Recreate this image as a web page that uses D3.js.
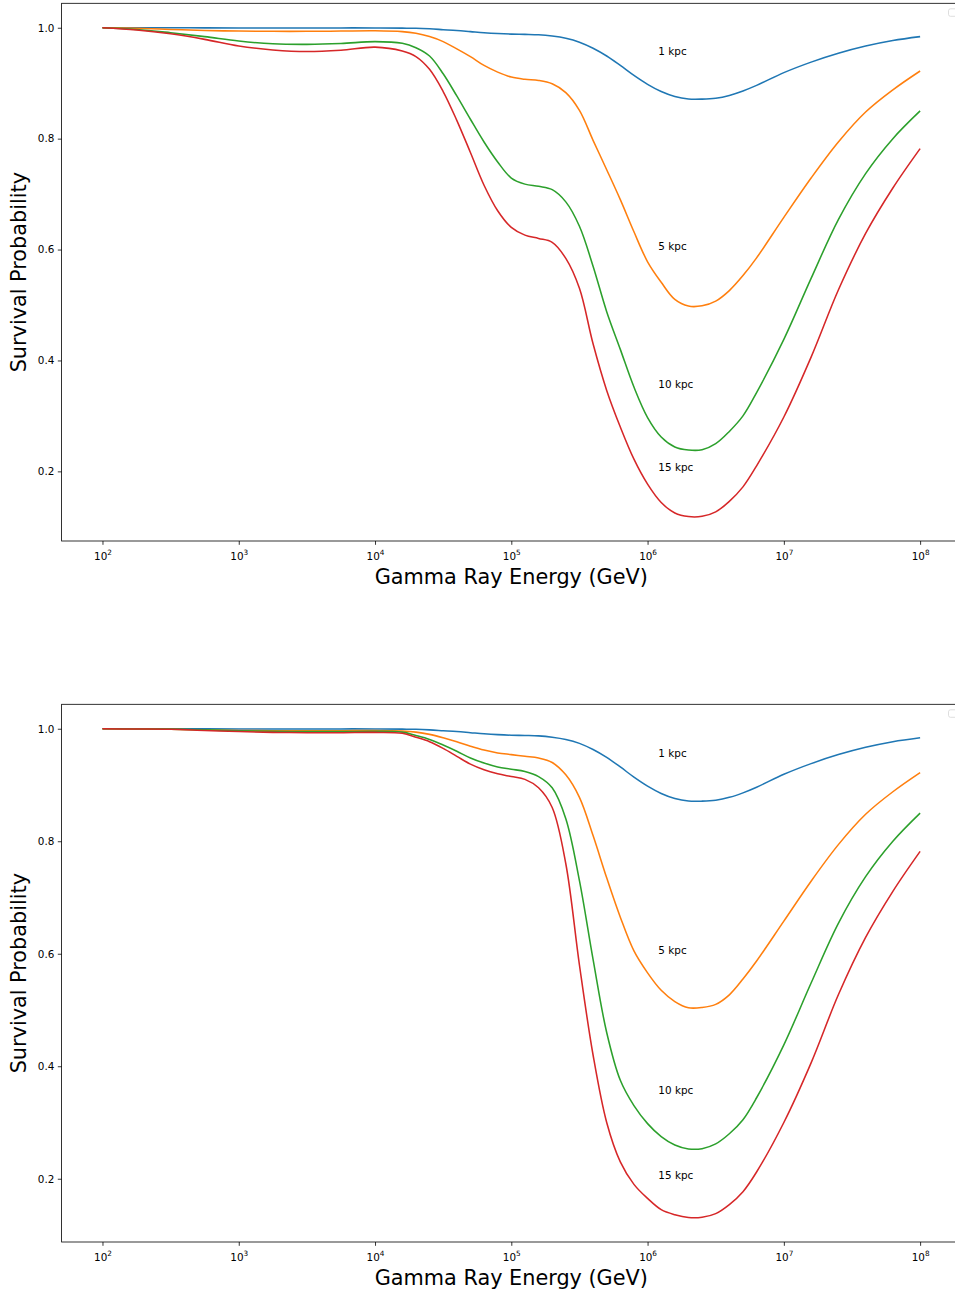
<!DOCTYPE html>
<html lang="en">
<head>
<meta charset="UTF-8">
<title>Survival Probability</title>
<script src="https://d3js.org/d3.v7.min.js"></script>
<style>
  body { margin: 0; background: #fff; }
  svg text { font-family: "DejaVu Sans", sans-serif; }
</style>
</head>
<body>
<svg id="fig" width="955" height="1296"></svg>
<script>
// log10 of the gamma ray energy (GeV) where values were read
var logE = [2.0, 2.25, 2.5, 2.75, 3.0, 3.25, 3.5, 3.75, 4.0, 4.2, 4.3, 4.4, 4.5, 4.6, 4.7, 4.8, 4.9,
            5.0, 5.1, 5.2, 5.3, 5.4, 5.5, 5.6, 5.7, 5.8, 5.9, 6.0, 6.1, 6.2, 6.3, 6.4, 6.5, 6.6, 6.7, 6.8,
            7.0, 7.2, 7.4, 7.6, 7.8, 8.0];

var labels = ["1 kpc", "5 kpc", "10 kpc", "15 kpc"];
var labelY = [0.95, 0.6, 0.35, 0.2];
var colors = ["#1f77b4", "#ff7f0e", "#2ca02c", "#d62728"];

// upper panel
var top1 = [1.0, 1.0, 1.0, 0.9998, 0.9997, 0.9996, 0.9996, 0.9997, 0.9997, 0.9993, 0.999, 0.998, 0.9965, 0.995, 0.993, 0.991, 0.9895,
            0.9885, 0.988, 0.9873, 0.985, 0.981, 0.974, 0.963, 0.949, 0.932, 0.914, 0.898, 0.885, 0.876, 0.8715, 0.8713, 0.873, 0.878, 0.886, 0.896,
            0.919, 0.938, 0.954, 0.967, 0.977, 0.984];
var top5 = [1.0, 0.999, 0.997, 0.995, 0.994, 0.9935, 0.9935, 0.994, 0.9945, 0.993, 0.990, 0.984, 0.975, 0.962, 0.948, 0.932, 0.920,
            0.911, 0.907, 0.905, 0.899, 0.883, 0.851, 0.797, 0.744, 0.690, 0.632, 0.578, 0.541, 0.510, 0.498, 0.4985, 0.507, 0.526, 0.553, 0.585,
            0.658, 0.729, 0.794, 0.848, 0.888, 0.922];
var top10 = [1.0, 0.997, 0.991, 0.984, 0.976, 0.971, 0.970, 0.9715, 0.975, 0.972, 0.964, 0.949, 0.917, 0.877, 0.835, 0.794, 0.758,
             0.729, 0.718, 0.714, 0.708, 0.686, 0.642, 0.570, 0.488, 0.420, 0.352, 0.297, 0.262, 0.244, 0.2385, 0.239, 0.250, 0.272, 0.300, 0.342,
             0.438, 0.548, 0.654, 0.737, 0.800, 0.850];
var top15 = [1.0, 0.996, 0.989, 0.979, 0.967, 0.960, 0.957, 0.9595, 0.965, 0.958, 0.948, 0.925, 0.885, 0.833, 0.775, 0.716, 0.670,
             0.640, 0.626, 0.620, 0.613, 0.584, 0.530, 0.430, 0.346, 0.280, 0.222, 0.177, 0.144, 0.125, 0.1185, 0.119, 0.127, 0.146, 0.172, 0.210,
             0.298, 0.406, 0.527, 0.629, 0.711, 0.782];

// lower panel
var bot1 = [1.0, 1.0, 1.0, 0.9998, 0.9997, 0.9996, 0.9996, 0.9997, 0.9997, 0.9993, 0.999, 0.998, 0.9965, 0.995, 0.993, 0.991, 0.9895,
            0.9885, 0.988, 0.9873, 0.985, 0.981, 0.974, 0.963, 0.949, 0.932, 0.914, 0.898, 0.885, 0.876, 0.8715, 0.8713, 0.873, 0.878, 0.886, 0.896,
            0.919, 0.938, 0.954, 0.967, 0.977, 0.984];
var bot5 = [1.0, 0.9995, 0.999, 0.998, 0.997, 0.9965, 0.9965, 0.9965, 0.997, 0.996, 0.994, 0.990, 0.984, 0.977, 0.969, 0.962, 0.957,
            0.954, 0.951, 0.948, 0.940, 0.918, 0.878, 0.810, 0.735, 0.665, 0.605, 0.566, 0.535, 0.515, 0.504, 0.5045, 0.510, 0.527, 0.555, 0.587,
            0.658, 0.729, 0.794, 0.848, 0.888, 0.922];
var bot10 = [1.0, 0.9997, 0.9993, 0.998, 0.9965, 0.9955, 0.995, 0.995, 0.9955, 0.994, 0.988, 0.981, 0.971, 0.960, 0.948, 0.939, 0.932,
             0.928, 0.924, 0.915, 0.895, 0.840, 0.730, 0.590, 0.460, 0.375, 0.330, 0.298, 0.275, 0.260, 0.253, 0.2535, 0.262, 0.280, 0.305, 0.344,
             0.438, 0.548, 0.654, 0.737, 0.800, 0.850];
var bot15 = [1.0, 0.9995, 0.999, 0.997, 0.995, 0.9935, 0.993, 0.993, 0.9935, 0.992, 0.985, 0.977, 0.965, 0.951, 0.937, 0.927, 0.920,
             0.915, 0.910, 0.895, 0.860, 0.760, 0.580, 0.420, 0.300, 0.230, 0.190, 0.165, 0.145, 0.136, 0.131, 0.1315, 0.138, 0.154, 0.177, 0.212,
             0.300, 0.406, 0.527, 0.629, 0.711, 0.782];

var svg = d3.select("#fig");
var left = 61.6, right = 961;

var x = d3.scaleLog()
    .domain([Math.pow(10, 1.7), Math.pow(10, 8.3)])
    .range([left, right]);

var majors = [1e2, 1e3, 1e4, 1e5, 1e6, 1e7, 1e8];
var minors = [];
for (var k = 1; k <= 8; k++) {
  for (var m = 2; m <= 9; m++) {
    var v = m * Math.pow(10, k);
    if (v >= x.domain()[0] && v <= x.domain()[1]) minors.push(v);
  }
}

function panel(top, bottom, series) {
  var all = [].concat.apply([], series);
  var lo = d3.min(all), hi = d3.max(all), pad = (hi - lo) * 0.05;
  var y = d3.scaleLinear().domain([lo - pad, hi + pad]).range([bottom, top]);
  var g = svg.append("g");

  var line = d3.line()
      .x(function (d, i) { return x(Math.pow(10, logE[i])); })
      .y(function (d) { return y(d); })
      .curve(d3.curveCatmullRom.alpha(0.5));

  series.forEach(function (s, i) {
    g.append("path")
      .attr("d", line(s))
      .attr("fill", "none")
      .attr("stroke", colors[i])
      .attr("stroke-width", 1.55);
  });

  labels.forEach(function (t, i) {
    g.append("text")
      .attr("x", x(1.2e6))
      .attr("y", y(labelY[i]))
      .attr("font-size", 10.4)
      .attr("fill", "#000")
      .text(t);
  });

  // x axis
  var xa = g.append("g").attr("transform", "translate(0," + bottom + ")");
  xa.call(d3.axisBottom(x).tickValues(minors).tickSize(2.2).tickSizeOuter(0).tickFormat(function () { return ""; }));
  xa.call(d3.axisBottom(x).tickValues(majors).tickSize(3.8).tickPadding(5).tickSizeOuter(0).tickFormat(function () { return ""; }));
  xa.selectAll(".domain").remove();
  xa.selectAll(".tick line").attr("stroke", "#000").attr("stroke-width", 0.8);
  xa.selectAll(".tick text").filter(function (d) { return majors.indexOf(d) >= 0; })
    .attr("font-size", 10.4).attr("fill", "#000").attr("dy", "0.98em")
    .each(function (d) {
      var t = d3.select(this);
      t.append("tspan").text("10");
      t.append("tspan").attr("font-size", 7.3).attr("dy", -4.5).text(Math.round(Math.log10(d)));
    });

  // y axis
  var ya = g.append("g").attr("transform", "translate(" + left + ",0)");
  ya.call(d3.axisLeft(y).tickValues([0.2, 0.4, 0.6, 0.8, 1.0]).tickSize(3.8).tickPadding(3.5)
      .tickSizeOuter(0).tickFormat(d3.format(".1f")));
  ya.selectAll(".domain").remove();
  ya.selectAll(".tick line").attr("stroke", "#000").attr("stroke-width", 0.8);
  ya.selectAll(".tick text").attr("font-size", 10.4).attr("fill", "#000");

  // frame
  g.append("rect")
    .attr("x", left).attr("y", top)
    .attr("width", right - left).attr("height", bottom - top)
    .attr("fill", "none").attr("stroke", "#000").attr("stroke-width", 0.8);

  // empty legend box
  g.append("rect")
    .attr("x", 948.5).attr("y", top + 5.5)
    .attr("width", 14).attr("height", 7.5).attr("rx", 2)
    .attr("fill", "#fff").attr("stroke", "#d6d6d6").attr("stroke-width", 0.8);

  g.append("text")
    .attr("x", (left + right) / 2).attr("y", bottom + 43)
    .attr("text-anchor", "middle").attr("font-size", 20.8).attr("fill", "#000")
    .text("Gamma Ray Energy (GeV)");

  g.append("text")
    .attr("transform", "translate(26," + (top + bottom) / 2 + ") rotate(-90)")
    .attr("text-anchor", "middle").attr("font-size", 20.8).attr("fill", "#000")
    .text("Survival Probability");
}

panel(3.3, 541, [top1, top5, top10, top15]);
panel(704.3, 1242, [bot1, bot5, bot10, bot15]);
</script>
</body>
</html>
